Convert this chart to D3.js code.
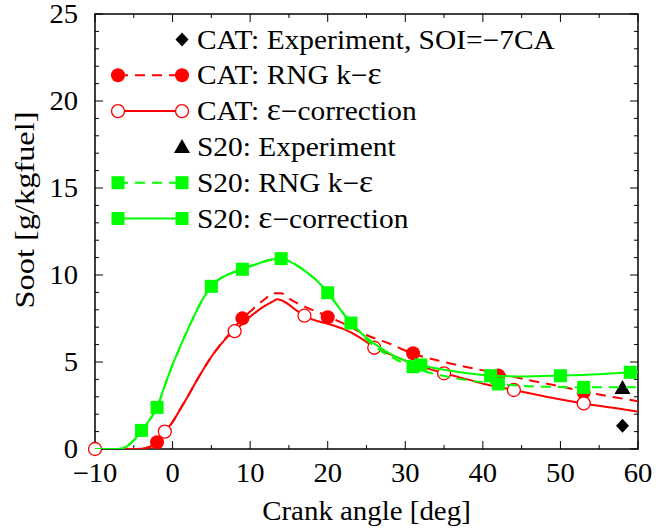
<!doctype html>
<meta charset="utf-8">
<title>Soot vs crank angle</title>
<script src="https://cdnjs.cloudflare.com/ajax/libs/d3/7.8.5/d3.min.js"></script>
<style>
  body { margin: 0; background: #fff; }
  svg { display: block; }
  text { font-family: "Liberation Serif", "Times New Roman", serif; fill: #000; }
</style>
<svg id="chart" width="670" height="529"></svg>
<script>
  // --- data ---
  // CAT, RNG k-eps (dashed red), curve samples
  const catRngX = [-10, -5, -4, -3, -2, -1, 0, 1, 2, 3, 4, 5, 6, 7, 8, 9, 10, 11, 12, 13, 14, 15, 16, 17, 18, 20, 22, 25, 28, 31, 35, 38, 42, 46, 50, 53, 56, 60]
  const catRngY = [0, 0, 0.03, 0.12, 0.39, 0.95, 1.55, 2.3, 3.05, 3.85, 4.6, 5.3, 5.9, 6.45, 7.0, 7.5, 7.9, 8.3, 8.65, 8.95, 8.95, 8.65, 8.4, 8.18, 8.0, 7.62, 7.22, 6.55, 6.05, 5.48, 5.0, 4.7, 4.35, 3.95, 3.6, 3.3, 3.05, 2.75]
  // CAT, eps-correction (solid red)
  const catEpsX = [-10, -5, -4, -3, -2, -1, 0, 1, 2, 3, 4, 5, 6, 7, 8, 9, 10, 11, 12, 13, 13.5, 14, 15, 16, 17, 18, 20, 22, 24, 26, 28, 30, 32, 35, 38, 41, 44, 48, 53, 57, 60]
  const catEpsY = [0, 0, 0.02, 0.1, 0.32, 1.0, 1.55, 2.3, 3.05, 3.85, 4.6, 5.3, 5.9, 6.4, 6.8, 7.2, 7.6, 7.95, 8.25, 8.5, 8.6, 8.55, 8.3, 7.95, 7.68, 7.45, 7.2, 6.9, 6.45, 5.86, 5.45, 5.08, 4.75, 4.35, 4.0, 3.65, 3.39, 3.02, 2.62, 2.35, 2.15]
  // S20, RNG k-eps (dashed green)
  const s20RngX = [-10, -7, -6, -5, -4, -3, -2, -1, 0, 1, 2, 3, 4, 5, 6, 7, 8, 9, 10, 11, 12, 13, 14, 15, 16, 17, 18, 19, 20, 21, 22, 23, 24, 25, 27, 29, 31, 33, 35, 38, 42, 45, 50, 53, 56, 60]
  const s20RngY = [0, 0, 0.12, 0.5, 1.05, 1.65, 2.39, 3.65, 4.85, 5.9, 6.9, 7.85, 8.7, 9.35, 9.75, 10.0, 10.18, 10.34, 10.5, 10.65, 10.8, 10.9, 10.93, 10.8, 10.55, 10.25, 9.9, 9.5, 8.98, 8.4, 7.8, 7.25, 6.8, 6.3, 5.6, 5.1, 4.73, 4.4, 4.2, 3.95, 3.74, 3.63, 3.56, 3.54, 3.55, 3.55]
  // S20, eps-correction (solid green)
  const s20EpsX = [-10, -7, -6, -5, -4, -3, -2, -1, 0, 1, 2, 3, 4, 5, 6, 7, 8, 9, 10, 11, 12, 13, 14, 15, 16, 17, 18, 19, 20, 21, 22, 23, 24, 25, 27, 29, 31, 32, 35, 38, 41, 45, 50, 55, 59, 60]
  const s20EpsY = [0, 0, 0.12, 0.5, 1.05, 1.65, 2.39, 3.65, 4.85, 5.9, 6.9, 7.85, 8.7, 9.35, 9.75, 10.0, 10.18, 10.34, 10.5, 10.65, 10.8, 10.9, 10.93, 10.8, 10.55, 10.25, 9.9, 9.5, 8.98, 8.4, 7.8, 7.25, 6.8, 6.4, 5.75, 5.25, 4.95, 4.83, 4.55, 4.35, 4.22, 4.17, 4.22, 4.3, 4.4, 4.42]

  // marker points
  const catRngMarkX = [-2, 9, 20, 31, 42, 53]
  const catRngMarkY = [0.39, 7.51, 7.57, 5.5, 4.22, 3.24]
  const catEpsMarkX = [-10, -1, 8, 17, 26, 35, 44, 53]
  const catEpsMarkY = [0, 1.0, 6.77, 7.66, 5.82, 4.35, 3.39, 2.62]
  const s20RngMarkX = [-2, 9, 20, 31, 42, 53]
  const s20RngMarkY = [2.39, 10.33, 8.98, 4.73, 3.74, 3.54]
  const s20EpsMarkX = [-4, 5, 14, 23, 32, 41, 50, 59]
  const s20EpsMarkY = [1.07, 9.35, 10.94, 7.24, 4.83, 4.21, 4.21, 4.41]

  // experiments
  const catExpX = [58]
  const catExpY = [1.33]
  const s20ExpX = [58]
  const s20ExpY = [3.5]

  // legend labels, split so the epsilon can be set a little larger
  const legendLabels = [
    ['CAT: Experiment, SOI=\u22127CA'],
    ['CAT: RNG k\u2212', '\u03b5'],
    ['CAT: ', '\u03b5', '\u2212correction'],
    ['S20: Experiment'],
    ['S20: RNG k\u2212', '\u03b5'],
    ['S20: ', '\u03b5', '\u2212correction'],
  ]
  const xTicks = [-10, 0, 10, 20, 30, 40, 50, 60]
  const yTicks = [0, 5, 10, 15, 20, 25]

  // --- layout ---
  const RED = '#ff0000'
  const GREEN = '#00ff00'
  const margin = { top: 14, right: 32, bottom: 80, left: 95 }
  const width = 670, height = 529
  const svg = d3.select('#chart')

  const x = d3.scaleLinear().domain([-10, 60]).range([margin.left, width - margin.right])
  const y = d3.scaleLinear().domain([0, 25]).range([height - margin.bottom, margin.top])

  svg.append('defs').append('clipPath').attr('id', 'plot-clip')
    .append('rect')
    .attr('x', x(-10)).attr('y', y(25))
    .attr('width', x(60) - x(-10)).attr('height', y(0) - y(25))

  // ticks, inward on all four sides
  function drawTicks() {
    const g = svg.append('g').attr('stroke', '#000').attr('stroke-width', 1)
    d3.range(-10, 61, 5).forEach((v) => {
      const len = v % 10 === 0 ? 8 : 4
      g.append('line').attr('x1', x(v)).attr('x2', x(v)).attr('y1', y(0)).attr('y2', y(0) - len)
      g.append('line').attr('x1', x(v)).attr('x2', x(v)).attr('y1', y(25)).attr('y2', y(25) + len)
    })
    d3.range(0, 26, 1).forEach((v) => {
      const len = v % 5 === 0 ? 8 : 4
      g.append('line').attr('x1', x(-10)).attr('x2', x(-10) + len).attr('y1', y(v)).attr('y2', y(v))
      g.append('line').attr('x1', x(60)).attr('x2', x(60) - len).attr('y1', y(v)).attr('y2', y(v))
    })
  }
  drawTicks()

  svg.append('rect')
    .attr('x', x(-10)).attr('y', y(25))
    .attr('width', x(60) - x(-10)).attr('height', y(0) - y(25))
    .attr('fill', 'none').attr('stroke', '#000').attr('stroke-width', 1.5)

  // tick labels
  svg.append('g').selectAll('text').data(xTicks).join('text')
    .attr('transform', (d) => `translate(${x(d)},${y(0) + 33}) scale(1.06,1)`)
    .attr('text-anchor', 'middle').attr('font-size', 27)
    .text((d) => (d < 0 ? '\u2212' + Math.abs(d) : d))
  svg.append('g').selectAll('text').data(yTicks).join('text')
    .attr('transform', (d) => `translate(${x(-10) - 17},${y(d) + 9}) scale(1.06,1)`)
    .attr('text-anchor', 'end').attr('font-size', 27)
    .text((d) => d)

  // axis titles (the original text is a bit stretched sideways)
  svg.append('text')
    .attr('transform', `translate(${(x(-10) + x(60)) / 2},520) scale(1.07,1)`)
    .attr('text-anchor', 'middle').attr('font-size', 27)
    .text('Crank angle [deg]')
  svg.append('text')
    .attr('transform', 'translate(34,210) rotate(-90) scale(1.2,1)')
    .attr('text-anchor', 'middle').attr('font-size', 27)
    .text('Soot [g/kgfuel]')

  // marker helpers
  function marker(g, kind, cx, cy, color) {
    if (kind === 'dot') {
      g.append('circle').attr('cx', cx).attr('cy', cy).attr('r', 7).attr('fill', color)
    } else if (kind === 'ring') {
      g.append('circle').attr('cx', cx).attr('cy', cy).attr('r', 6.5)
        .attr('fill', '#fff').attr('stroke', color).attr('stroke-width', 1.3)
    } else if (kind === 'square') {
      g.append('rect').attr('x', cx - 6.5).attr('y', cy - 6.5).attr('width', 13).attr('height', 13).attr('fill', color)
    } else if (kind === 'diamond') {
      g.append('path').attr('d', `M${cx},${cy - 7}L${cx + 6.5},${cy}L${cx},${cy + 7}L${cx - 6.5},${cy}Z`).attr('fill', color)
    } else if (kind === 'triangle') {
      g.append('path').attr('d', `M${cx},${cy - 8}L${cx + 8},${cy + 6}L${cx - 8},${cy + 6}Z`).attr('fill', color)
    }
  }

  const line = d3.line().x((d) => x(d[0])).y((d) => y(d[1])).curve(d3.curveMonotoneX)
  const plot = svg.append('g')

  const series = [
    { xs: catExpX, ys: catExpY, color: '#000', kind: 'diamond' },
    { xs: catRngX, ys: catRngY, mx: catRngMarkX, my: catRngMarkY, color: RED, kind: 'dot', dash: '10,7' },
    { xs: catEpsX, ys: catEpsY, mx: catEpsMarkX, my: catEpsMarkY, color: RED, kind: 'ring' },
    { xs: s20ExpX, ys: s20ExpY, color: '#000', kind: 'triangle' },
    { xs: s20RngX, ys: s20RngY, mx: s20RngMarkX, my: s20RngMarkY, color: GREEN, kind: 'square', dash: '10,7' },
    { xs: s20EpsX, ys: s20EpsY, mx: s20EpsMarkX, my: s20EpsMarkY, color: GREEN, kind: 'square' },
  ]

  series.forEach((s, i) => {
    const g = plot.append('g')
    if (s.mx) {
      g.append('path')
        .datum(s.xs.map((v, k) => [v, s.ys[k]]))
        .attr('clip-path', 'url(#plot-clip)')
        .attr('fill', 'none').attr('stroke', s.color).attr('stroke-width', 2)
        .attr('stroke-dasharray', s.dash || null)
        .attr('d', line)
      s.mx.forEach((v, k) => marker(g, s.kind, x(v), y(s.my[k]), s.color))
    } else {
      s.xs.forEach((v, k) => marker(g, s.kind, x(v), y(s.ys[k]), s.color))
    }

    // legend row
    const ly = 39.5 + i * 35.8
    const lg = svg.append('g')
    if (s.mx) {
      lg.append('line').attr('x1', 118).attr('x2', 182).attr('y1', ly).attr('y2', ly)
        .attr('stroke', s.color).attr('stroke-width', 2).attr('stroke-dasharray', s.dash || null)
      marker(lg, s.kind, 118, ly, s.color)
    }
    marker(lg, s.kind, 182, ly, s.color)
    const t = lg.append('text')
      .attr('transform', `translate(197,${ly + 9}) scale(1.09,1)`)
      .attr('font-size', 27)
    legendLabels[i].forEach((part) => {
      t.append('tspan').attr('font-size', part === '\u03b5' ? 31 : null).text(part)
    })
  })
</script>
